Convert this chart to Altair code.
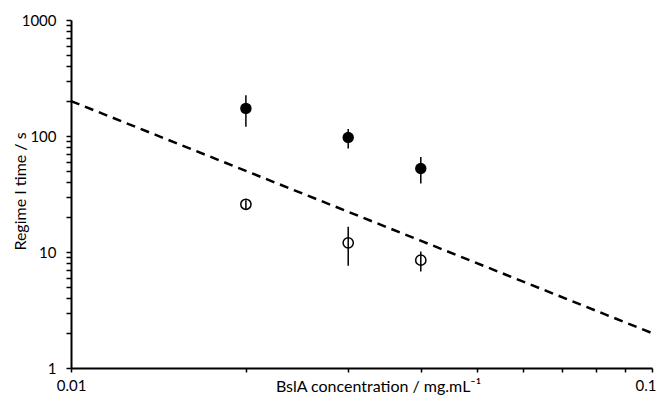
import altair as alt
import pandas as pd

# ---- data ----
conc = [0.02, 0.03, 0.04]
filled_time = [173, 97, 52.5]
filled_lo = [120, 78, 39]
filled_hi = [225, 115, 66]
open_time = [25.8, 12.0, 8.5]
open_lo = [23.5, 7.6, 6.8]
open_hi = [28.0, 16.5, 10.1]
fit_conc = [0.01, 0.1]
fit_time = [200, 2]

x_tick_values = [0.01, 0.02, 0.03, 0.04, 0.05, 0.06, 0.07, 0.08, 0.09, 0.1]
y_tick_values = [1, 2, 3, 4, 5, 6, 7, 8, 9,
                 10, 20, 30, 40, 50, 60, 70, 80, 90,
                 100, 200, 300, 400, 500, 600, 700, 800, 900, 1000]

filled_df = pd.DataFrame({"conc": conc, "t": filled_time, "lo": filled_lo, "hi": filled_hi})
open_df = pd.DataFrame({"conc": conc, "t": open_time, "lo": open_lo, "hi": open_hi})
fit_df = pd.DataFrame({"conc": fit_conc, "t": fit_time})

FONT = "Lato"
y_scale = alt.Scale(type="log", domain=[1, 1000], nice=False)

x_enc = alt.X(
    "conc:Q",
    scale=alt.Scale(type="log", domain=[0.01, 0.1], nice=False),
    axis=alt.Axis(
        values=x_tick_values,
        labelExpr="datum.value == 0.01 ? '0.01' : (datum.value == 0.1 ? '0.1' : '')",
        labelFlush=False,
        labelOverlap=False,
        labelAlign={"condition": {"test": "datum.value == 0.1", "value": "right"}, "value": "center"},
        labelOffset={"condition": {"test": "datum.value == 0.1", "value": 4}, "value": 0},
        tickSize=4,
        labelPadding=6,
        title="BslA concentration / mg.mL\u207b\u00b9",
        titleX=307,
        titleY=23,
        titleBaseline="alphabetic",
        titleAnchor="middle",
    ),
)
y_enc = alt.Y(
    "t:Q",
    scale=y_scale,
    axis=alt.Axis(
        values=y_tick_values,
        labelExpr="(datum.value == 1 || datum.value == 10 || datum.value == 100 || datum.value == 1000) ? '' + datum.value : ''",
        labelOverlap=False,
        tickSize=5,
        labelPadding=10,
        title="Regime I time / s",
        titleX=-46,
        titleY=171,
        titleAngle=-90,
        titleBaseline="alphabetic",
        titleAlign="center",
    ),
)

fit = alt.Chart(fit_df).mark_line(
    color="black", strokeWidth=2.5, strokeDash=[9, 6]
).encode(x=x_enc, y=y_enc)

err_f = alt.Chart(filled_df).mark_rule(color="black", strokeWidth=1.5).encode(
    x=x_enc, y=alt.Y("lo:Q", scale=y_scale), y2="hi:Q"
)
err_o = alt.Chart(open_df).mark_rule(color="black", strokeWidth=1.5).encode(
    x=x_enc, y=alt.Y("lo:Q", scale=y_scale), y2="hi:Q"
)
pts_f = alt.Chart(filled_df).mark_point(
    filled=True, color="black", size=130, opacity=1, shape="circle"
).encode(x=x_enc, y=y_enc)
pts_o = alt.Chart(open_df).mark_point(
    filled=False, color="black", size=105, strokeWidth=1.5, opacity=1, shape="circle"
).encode(x=x_enc, y=y_enc)

chart = (
    alt.layer(fit, err_f, err_o, pts_f, pts_o)
    .properties(
        width=581,
        height=348,
        autosize=alt.AutoSizeParams(type="none"),
        padding={"left": 63, "top": 12, "right": 4, "bottom": 28},
        background="white",
    )
    .configure_view(strokeWidth=0)
    .configure_axis(
        grid=False,
        domainColor="black",
        domainWidth=2,
        tickColor="black",
        tickWidth=1.5,
        labelFont=FONT,
        labelFontSize=15,
        labelColor="black",
        titleFont=FONT,
        titleFontSize=16,
        titleFontWeight="normal",
        titleColor="black",
    )
)

chart.save("out.html", embed_options={"renderer": "svg", "actions": False})
